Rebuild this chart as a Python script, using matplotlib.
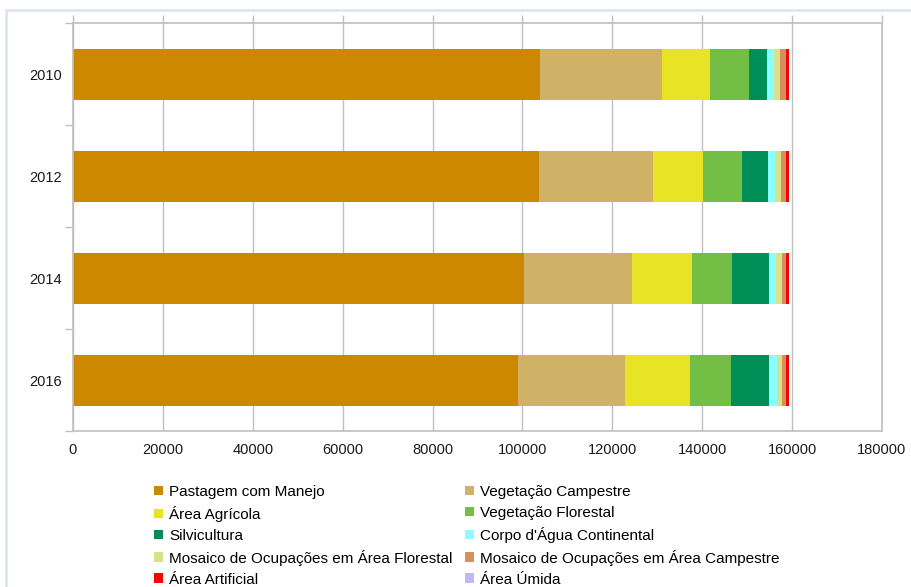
import numpy as np
import matplotlib
matplotlib.use('Agg')
import matplotlib.pyplot as plt
from matplotlib.patches import Rectangle

plt.rcParams['font.family'] = ['Liberation Sans', 'DejaVu Sans']

# Data (area per class)
years = ['2010', '2012', '2014', '2016']
classes = ['Pastagem com Manejo', 'Vegetação Campestre', 'Área Agrícola',
           'Vegetação Florestal', 'Silvicultura', "Corpo d'Água Continental",
           'Mosaico de Ocupações em Área Florestal',
           'Mosaico de Ocupações em Área Campestre', 'Área Artificial', 'Área Úmida']
pastagem = [103900, 103700, 100360, 99020]
veg_campestre = [27160, 25360, 24030, 23810]
area_agricola = [10620, 11130, 13350, 14460]
veg_florestal = [8810, 8680, 8900, 9060]
silvicultura = [3860, 5780, 8300, 8590]
corpo_agua = [1550, 1630, 1490, 1630]
mosaico_florestal = [1340, 1260, 1260, 1120]
mosaico_campestre = [1470, 1170, 1020, 1020]
area_artificial = [530, 530, 530, 610]
area_umida = [50, 50, 50, 50]

series = [pastagem, veg_campestre, area_agricola, veg_florestal, silvicultura,
          corpo_agua, mosaico_florestal, mosaico_campestre, area_artificial, area_umida]
colors = ['#cc8800', '#cfb265', '#e8e325', '#73bf45', '#008f57',
          '#8affff', '#d7e38a', '#d69060', '#ff0000', '#c0b8f5']

fig = plt.figure(figsize=(9.12, 5.87), dpi=100)
ax = fig.add_axes([73 / 912, 1 - 431 / 587, (882 - 73) / 912, (431 - 23) / 587])

# light blue frame around the chart area
fig.patches.append(Rectangle((6 / 912, -0.05), 1.1, 1 - 10 / 587 + 0.05,
                             transform=fig.transFigure, fill=False,
                             edgecolor='#dce6f2', linewidth=2, zorder=0))

y = np.arange(len(years))
left = np.zeros(len(years))
handles = []
for vals, name, c in zip(series, classes, colors):
    h = ax.barh(y, vals, left=left, height=0.5, color=c, label=name, linewidth=0)
    handles.append(h)
    left += np.array(vals)

ax.set_xlim(0, 180000)
ax.set_ylim(3.5, -0.5)
ax.set_xticks(np.arange(0, 180001, 20000))
ax.set_yticks(y)
ax.set_yticklabels(years)
ax.set_yticks(np.arange(-0.5, 4, 1), minor=True)

ax.grid(axis='x', color='#c0c0c0', linewidth=1)
ax.set_axisbelow(True)
for s in ax.spines.values():
    s.set_color('#bfbfbf')
    s.set_linewidth(1.2)

ax.tick_params(axis='x', top=True, bottom=False, labeltop=False, labelbottom=True,
               direction='out', length=6, width=1, color='#bfbfbf',
               labelsize=10.5, labelcolor='#1a1a1a', pad=3)
ax.tick_params(axis='y', which='major', length=0, labelsize=10.5,
               labelcolor='#1a1a1a', pad=8)
ax.tick_params(axis='y', which='minor', length=6, width=1, color='#bfbfbf')

# legend, filled column-wise to keep row order of the original
order = [0, 2, 4, 6, 8, 1, 3, 5, 7, 9]
fig.legend([handles[i] for i in order], [classes[i] for i in order],
           loc='upper left', bbox_to_anchor=(154 / 912, 1 - 485 / 587),
           ncol=2, frameon=False, fontsize=11, handlelength=0.6,
           handleheight=0.6, handletextpad=0.4, columnspacing=0.8,
           labelspacing=0.45, borderaxespad=0, borderpad=0)

fig.savefig('out.png', dpi=100)
